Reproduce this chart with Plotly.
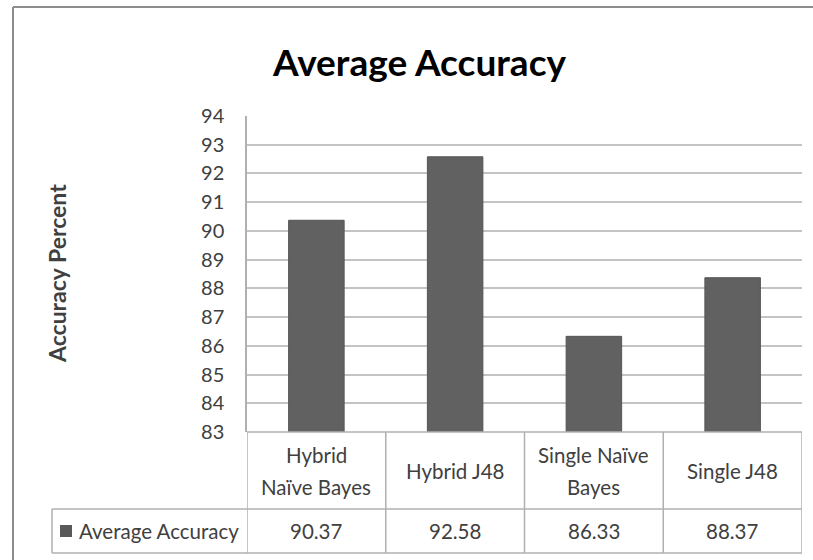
import plotly.graph_objects as go

categories = ["Hybrid<br>Naïve Bayes", "Hybrid J48", "Single Naïve<br>Bayes", "Single J48"]
values = [90.37, 92.58, 86.33, 88.37]
series_name = "Average Accuracy"
title_text = "Average Accuracy"
y_title = "Accuracy Percent"
y_ticks = list(range(83, 95))

W, H = 813, 560
L, R, T, B = 247, 11, 116, 128
PW, PH = W - L - R, H - T - B

def px(x):
    return (x - L) / PW

def py(y):
    return (H - B - y) / PH

FONT = "Lato"
GRID = "#c4c4c4"
LINE = "#b0b0b0"
TXT = "#404040"
BAR = "#616161"

xs = list(range(len(categories)))

fig = go.Figure()
fig.add_trace(go.Bar(
    x=xs, y=values, width=0.4, name=series_name,
    marker=dict(color=BAR, line=dict(color="#555555", width=1)),
    showlegend=False, hoverinfo="skip",
))

fig.update_layout(
    width=W, height=H, autosize=False,
    margin=dict(l=L, r=R, t=T, b=B, pad=0),
    paper_bgcolor="white", plot_bgcolor="white",
    font=dict(family=FONT, color=TXT),
)
fig.update_xaxes(range=[-0.5, len(categories) - 0.5], showticklabels=False,
                 showgrid=False, zeroline=False, showline=False, ticks="")
fig.update_yaxes(range=[83, 94], tickvals=y_ticks, ticktext=[str(t) for t in y_ticks],
                 showgrid=True, gridcolor=GRID, gridwidth=1.5, zeroline=False,
                 showline=True, linecolor=LINE, linewidth=1.5, ticks="",
                 tickfont=dict(family=FONT, size=20, color=TXT), ticklabelstandoff=17)

shapes = []
row1_bottom = 509
row2_bottom = 553
legend_left = 52
shapes.append(dict(type="line", xref="x", yref="paper", x0=-0.5, x1=len(categories) - 0.5,
                   y0=0, y1=0, line=dict(color=LINE, width=1.5)))
for yy in (row1_bottom, row2_bottom):
    shapes.append(dict(type="line", xref="paper", yref="paper", x0=px(legend_left), x1=1,
                       y0=py(yy), y1=py(yy), line=dict(color=LINE, width=1.5)))
for i in range(len(categories) + 1):
    shapes.append(dict(type="line", xref="x", yref="paper", x0=i - 0.5, x1=i - 0.5,
                       y0=0, y1=py(row2_bottom), line=dict(color=LINE, width=1.5)))
shapes.append(dict(type="line", xref="paper", yref="paper", x0=px(legend_left), x1=px(legend_left),
                   y0=py(row1_bottom), y1=py(row2_bottom), line=dict(color=LINE, width=1.5)))
# legend key square
shapes.append(dict(type="rect", xref="paper", yref="paper", x0=px(60), x1=px(72),
                   y0=py(537), y1=py(525), line=dict(width=0), fillcolor="#595959"))
# outer chart border (top and left edges visible in the crop)
shapes.append(dict(type="line", xref="paper", yref="paper", x0=px(13), x1=px(W),
                   y0=py(7), y1=py(7), line=dict(color="#8c8c8c", width=2)))
shapes.append(dict(type="line", xref="paper", yref="paper", x0=px(13), x1=px(13),
                   y0=py(7), y1=py(H), line=dict(color="#8c8c8c", width=2)))
fig.update_layout(shapes=shapes)

ann = []
ann.append(dict(text=f"<b>{title_text}</b>", xref="paper", yref="paper", x=px(419), y=py(62),
                xanchor="center", yanchor="middle", showarrow=False,
                font=dict(family=FONT, size=37, color="black")))
ann.append(dict(text=f"<b>{y_title}</b>", xref="paper", yref="paper", x=px(57), y=py(274),
                xanchor="center", yanchor="middle", showarrow=False, textangle=-90,
                font=dict(family=FONT, size=23, color=TXT)))
row1_mid = (432 + row1_bottom) / 2
line_gap = 32
for i, c in enumerate(categories):
    parts = c.split("<br>")
    n = len(parts)
    for k, part in enumerate(parts):
        yy = row1_mid + (k - (n - 1) / 2) * line_gap
        ann.append(dict(text=part, xref="x", yref="paper", x=i, y=py(yy),
                        xanchor="center", yanchor="middle", showarrow=False,
                        font=dict(family=FONT, size=20.5, color=TXT)))
for i, v in enumerate(values):
    ann.append(dict(text=f"{v:.2f}", xref="x", yref="paper", x=i, y=py((row1_bottom + row2_bottom) / 2),
                    xanchor="center", yanchor="middle", showarrow=False,
                    font=dict(family=FONT, size=20.5, color=TXT)))
ann.append(dict(text=series_name, xref="paper", yref="paper",
                x=px(77), y=py((row1_bottom + row2_bottom) / 2), xanchor="left", yanchor="middle",
                showarrow=False, font=dict(family=FONT, size=20.5, color=TXT)))
fig.update_layout(annotations=ann)

fig.write_html("out.html", config={"displayModeBar": False},
               post_script="document.body.style.margin='0';"
                           "document.body.style.overflow='hidden';"
                           "document.documentElement.style.overflow='hidden';")
